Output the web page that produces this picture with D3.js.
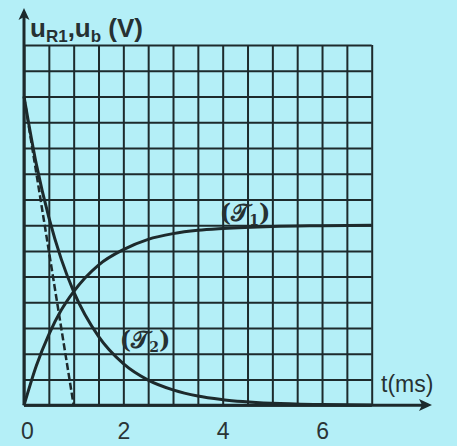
<!DOCTYPE html>
<html><head><meta charset="utf-8">
<script src="https://cdn.jsdelivr.net/npm/d3@7"></script>
<style>
html,body{margin:0;padding:0;background:#b4eff7;}
svg{display:block;}
</style></head>
<body>
<svg id="chart" width="457" height="446"></svg>
<script>
// ---- data (y in grid divisions, t in ms) ----
const tValues   = [0, 0.25, 0.5, 0.75, 1, 1.5, 2, 2.5, 3, 3.5, 4, 5, 6, 7];
const curve1    = [0, 1.55, 2.75, 3.7, 4.42, 5.45, 6.05, 6.45, 6.67, 6.8, 6.87, 6.95, 6.98, 7.0];   // (T1) u_R1
const curve2    = [12, 9.35, 7.3, 5.68, 4.42, 2.68, 1.62, 0.98, 0.6, 0.36, 0.22, 0.08, 0.03, 0.01]; // (T2) u_b
const tangentT  = [0, 1];
const tangentY  = [12, 0];
const xTickLabels = [0, 2, 4, 6];
const xGrid = d3.range(0, 7.01, 0.5);
const yGrid = d3.range(0, 14.01, 1);

const ink = "#1d2a2c";
const svg = d3.select("#chart");
const x0 = 24, x1 = 371.7, yB = 405.3, yT = 45;
const x = d3.scaleLinear().domain([0, 7]).range([x0, x1]);
const y = d3.scaleLinear().domain([0, 14]).range([yB, yT]);

// grid
svg.append("g").attr("transform", `translate(0,${yB})`)
  .call(d3.axisBottom(x).tickValues(xGrid).tickSize(-(yB - yT)).tickFormat(""))
  .call(g => g.select(".domain").remove())
  .call(g => g.selectAll("line").attr("stroke", ink).attr("stroke-width", 2));
svg.append("g").attr("transform", `translate(${x0},0)`)
  .call(d3.axisLeft(y).tickValues(yGrid).tickSize(-(x1 - x0)).tickFormat(""))
  .call(g => g.select(".domain").remove())
  .call(g => g.selectAll("line").attr("stroke", ink).attr("stroke-width", 2));

// axes with arrows
svg.append("line").attr("x1", x0).attr("y1", yB).attr("x2", 428).attr("y2", yB)
  .attr("stroke", ink).attr("stroke-width", 3);
svg.append("line").attr("x1", x0).attr("y1", yB).attr("x2", x0).attr("y2", 12)
  .attr("stroke", ink).attr("stroke-width", 3);
svg.append("path").attr("d", "M432,405 L419,399 L422,405 L419,411 Z").attr("fill", ink);
svg.append("path").attr("d", "M24,8 L18.5,20 L24,17 L29.5,20 Z").attr("fill", ink);

// x tick labels
svg.append("g").attr("transform", `translate(0,${yB})`)
  .call(d3.axisBottom(x).tickValues(xTickLabels).tickSize(0).tickPadding(17).tickFormat(d3.format("d")))
  .call(g => g.select(".domain").remove())
  .call(g => g.selectAll("text").attr("font-family", "Liberation Sans, Arial, sans-serif")
      .attr("font-size", 23).attr("fill", "#2a3436").attr("dx", d => d === 0 ? 3 : 0));

// curves
const line = d3.line().x(d => x(d[0])).y(d => y(d[1])).curve(d3.curveMonotoneX);
svg.append("path").datum(tValues.map((t, i) => [t, curve1[i]]))
  .attr("d", line).attr("fill", "none").attr("stroke", ink).attr("stroke-width", 3);
svg.append("path").datum(tValues.map((t, i) => [t, curve2[i]]))
  .attr("d", line).attr("fill", "none").attr("stroke", ink).attr("stroke-width", 3);
svg.append("path").datum(tangentT.map((t, i) => [t, tangentY[i]]))
  .attr("d", d3.line().x(d => x(d[0])).y(d => y(d[1])))
  .attr("fill", "none").attr("stroke", ink).attr("stroke-width", 2.5).attr("stroke-dasharray", "7,3");

// axis titles
const ttl = svg.append("text").attr("x", 30).attr("y", 37)
  .attr("font-family", "Liberation Sans, Arial, sans-serif").attr("font-weight", "bold")
  .attr("font-size", 26).attr("fill", "#263133");
ttl.append("tspan").text("u");
ttl.append("tspan").attr("font-size", 17).attr("dy", 5).text("R1");
ttl.append("tspan").attr("dy", -5).text(",u");
ttl.append("tspan").attr("font-size", 17).attr("dy", 5).text("b");
ttl.append("tspan").attr("dy", -5).text(" (V)");

svg.append("text").attr("x", 381).attr("y", 392)
  .attr("font-family", "Liberation Sans, Arial, sans-serif").attr("font-size", 23)
  .attr("fill", "#263133").text("t(ms)");

// curve labels
function curveLabel(cx, cy, sub) {
  const t = svg.append("text").attr("x", cx).attr("y", cy).attr("text-anchor", "middle")
    .attr("font-family", "DejaVu Serif, serif").attr("font-weight", "bold")
    .attr("font-size", 24).attr("fill", "#263133");
  t.append("tspan").text("(\u{1D4AF}");
  t.append("tspan").attr("font-size", 14).attr("dy", 4).text(sub);
  t.append("tspan").attr("dy", -4).text(")");
}
curveLabel(245, 221, "1");
curveLabel(145, 348, "2");
</script>
</body></html>
